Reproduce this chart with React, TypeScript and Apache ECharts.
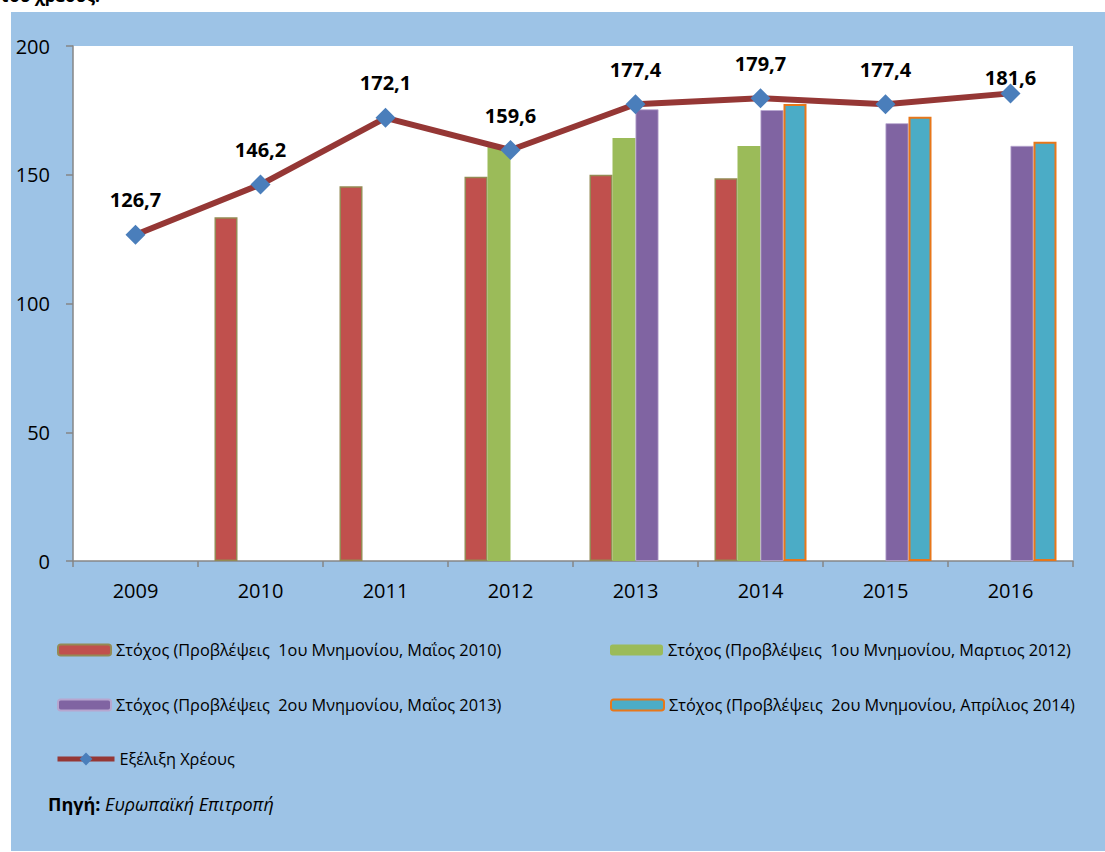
import React, { useEffect, useRef } from "react";
import * as echarts from "echarts";

const years = ["2009", "2010", "2011", "2012", "2013", "2014", "2015", "2016"];
const targetMay2010 = [null, 133.5, 145.5, 149.2, 150.0, 148.6, null, null];
const targetMar2012 = [null, null, null, 160.9, 164.3, 161.2, null, null];
const targetMay2013 = [null, null, null, null, 175.4, 175.1, 170.0, 161.2];
const targetApr2014 = [null, null, null, null, null, 177.5, 172.5, 162.8];
const debt = [126.7, 146.2, 172.1, 159.6, 177.4, 179.7, 177.4, 181.6];

const names = [
  "Στόχος (Προβλέψεις  1ου Μνημονίου, Μαΐος 2010)",
  "Στόχος (Προβλέψεις  1ου Μνημονίου, Μαρτιος 2012)",
  "Στόχος (Προβλέψεις  2ου Μνημονίου, Μαΐος 2013)",
  "Στόχος (Προβλέψεις  2ου Μνημονίου, Απρίλιος 2014)",
  "Εξέλιξη Χρέους",
];

const FONT = "'Open Sans', 'Noto Sans', sans-serif";

export default function App() {
  const ref = useRef<HTMLDivElement>(null);
  useEffect(() => {
    if (!ref.current) return;
    const chart = echarts.init(ref.current, null, { renderer: "svg" });
    const legendText = { fontSize: 16.3, color: "#000", fontFamily: FONT };
    const mkLegend = (name: string, left: number, top: number, extra: any = {}) => ({
      data: [name],
      left,
      top,
      padding: 0,
      itemWidth: 53,
      itemHeight: 11,
      textStyle: legendText,
      selectedMode: false,
      ...extra,
    });
    const option: any = {
      animation: false,
      backgroundColor: "#ffffff",
      textStyle: { fontFamily: FONT },
      graphic: [
        {
          type: "rect",
          z: -10,
          silent: true,
          shape: { x: 11, y: 12, width: 1094, height: 839 },
          style: { fill: "#9DC3E6" },
        },
        {
          type: "text",
          left: 0,
          top: -13,
          style: {
            text: "του χρέους:",
            font: `bold 17px ${FONT}`,
            fill: "#000",
          },
        },
        {
          type: "text",
          left: 48,
          top: 795,
          style: {
            text: "{b|Πηγή:} {i|Ευρωπαϊκή Επιτροπή}",
            font: `18px ${FONT}`,
            fill: "#000",
            rich: {
              b: { font: `bold 18px ${FONT}`, fill: "#000" },
              i: { font: `italic 18px ${FONT}`, fill: "#000" },
            },
          },
        },
      ],
      legend: [
        mkLegend(names[0], 57, 642),
        mkLegend(names[1], 610, 642),
        mkLegend(names[2], 57, 697),
        mkLegend(names[3], 610, 697),
        mkLegend(names[4], 55, 751, {
          itemWidth: 57,
          itemHeight: 16,
          lineStyle: { width: 5, color: "#953735" },
        }),
      ],
      grid: {
        left: 73,
        top: 46,
        right: 32,
        bottom: 291,
        show: true,
        backgroundColor: "#ffffff",
        borderWidth: 0,
      },
      xAxis: {
        type: "category",
        data: years,
        axisLine: { lineStyle: { color: "#868686", width: 1.5 } },
        axisTick: { show: true, length: 6, lineStyle: { color: "#868686", width: 1.5 } },
        axisLabel: { fontSize: 20, color: "#000", margin: 19, fontFamily: FONT },
        splitLine: { show: false },
      },
      yAxis: {
        type: "value",
        min: 0,
        max: 200,
        interval: 50,
        axisLine: { show: true, lineStyle: { color: "#868686", width: 1.5 } },
        axisTick: { show: true, length: 7, lineStyle: { color: "#868686", width: 1.5 } },
        axisLabel: { fontSize: 20, color: "#000", margin: 23, fontFamily: FONT },
        splitLine: { show: false },
      },
      series: [
        {
          name: names[0],
          type: "bar",
          data: targetMay2010,
          barWidth: 23,
          barGap: "0%",
          itemStyle: { color: "#C0504D", borderColor: "#948A54", borderWidth: 1.5 },
        },
        {
          name: names[1],
          type: "bar",
          data: targetMar2012,
          barWidth: 23,
          barGap: "0%",
          itemStyle: { color: "#9BBB59" },
        },
        {
          name: names[2],
          type: "bar",
          data: targetMay2013,
          barWidth: 23,
          barGap: "0%",
          itemStyle: { color: "#8064A2", borderColor: "#B7A6CF", borderWidth: 0.8 },
        },
        {
          name: names[3],
          type: "bar",
          data: targetApr2014,
          barWidth: 23,
          barGap: "0%",
          itemStyle: { color: "#4BACC6", borderColor: "#E8771A", borderWidth: 2 },
        },
        {
          name: names[4],
          type: "line",
          z: 5,
          data: debt.map((v, i) =>
            i === debt.length - 1 ? { value: v, label: { distance: -4 } } : v
          ),
          symbol: "diamond",
          symbolSize: 20,
          lineStyle: { color: "#953735", width: 6 },
          itemStyle: { color: "#4A7EBB" },
          label: {
            show: true,
            position: "top",
            distance: 15,
            fontSize: 20,
            fontWeight: "bold",
            color: "#000",
            fontFamily: FONT,
            formatter: (p: any) => String(p.value).replace(".", ","),
          },
        },
      ],
    };
    chart.setOption(option);
    return () => chart.dispose();
  }, []);
  return (
    <div
      ref={ref}
      style={{ position: "fixed", left: 0, top: 0, width: 1105, height: 852 }}
    />
  );
}
